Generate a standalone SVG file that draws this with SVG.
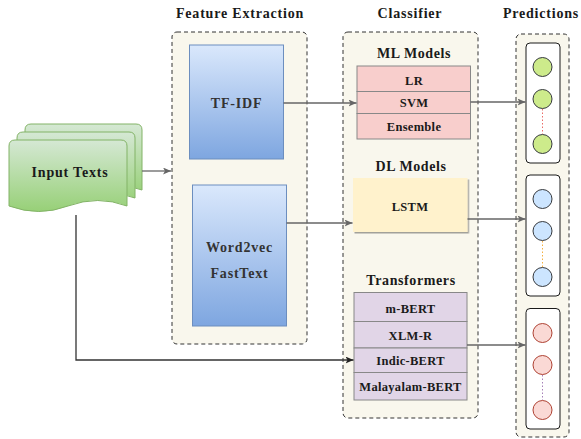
<svg xmlns="http://www.w3.org/2000/svg" width="581" height="439" viewBox="0 0 581 439">
<defs>
<linearGradient id="gGreen" x1="0" y1="0" x2="0" y2="1"><stop offset="0" stop-color="#d5e8d4"/><stop offset="1" stop-color="#97d077"/></linearGradient>
<linearGradient id="gBlue" x1="0" y1="0" x2="0" y2="1"><stop offset="0" stop-color="#dae8fc"/><stop offset="1" stop-color="#7ea6e0"/></linearGradient>
<marker id="arr" markerWidth="9" markerHeight="8" refX="8" refY="3.5" orient="auto" markerUnits="userSpaceOnUse"><path d="M0,0 L8,3.5 L0,7 L2,3.5 Z" fill="#666"/></marker>
<marker id="arrK" markerWidth="9" markerHeight="8" refX="8" refY="3.5" orient="auto" markerUnits="userSpaceOnUse"><path d="M0,0 L8,3.5 L0,7 L2,3.5 Z" fill="#222"/></marker>
<filter id="sh" x="-10%" y="-10%" width="130%" height="130%"><feDropShadow dx="1.5" dy="1.5" stdDeviation="0.6" flood-color="#000" flood-opacity="0.35"/></filter>
</defs>
<style>
text{font-family:"Liberation Serif","Times New Roman",serif;font-weight:bold;fill:#1a1a1a;text-anchor:middle}
.h{font-size:14px;letter-spacing:0.8px}
.g{font-size:14px;letter-spacing:0.6px}
.t{font-size:12.5px;letter-spacing:0.3px}
.cont{fill:#f9f7ed;stroke:#333;stroke-width:1;stroke-dasharray:4 3}
.doc{fill:url(#gGreen);stroke:#82b366;stroke-width:1}
.feat{fill:url(#gBlue);stroke:#6c8ebf;stroke-width:1}
.ml{fill:#f8cecc;stroke:#888;stroke-width:1}
.tr{fill:#e1d5e7;stroke:#888;stroke-width:1}
.inner{fill:#fff;stroke:#1a1a1a;stroke-width:1}
.cg{fill:#cdeb8b;stroke:#36393d}
.cb{fill:#cce5ff;stroke:#36393d}
.cr{fill:#fad9d5;stroke:#ae4132}
.edge{fill:none;stroke:#666;stroke-width:1.3;marker-end:url(#arr)}
</style>

<text class="h" x="240" y="18">Feature Extraction</text>
<text class="h" x="410" y="18">Classifier</text>
<text class="h" x="541" y="18">Predictions</text>

<g id="fe-container"><rect class="cont" x="172" y="32" width="135" height="312" rx="5"/></g>
<g id="cls-container"><rect class="cont" x="343" y="32" width="135" height="386" rx="5"/></g>
<g id="pred-container"><rect class="cont" x="516" y="34" width="53" height="403" rx="5"/></g>

<g id="input-texts">
<path class="doc" d="M25,190 V130 Q25,124 31,124 H136 Q142,124 142,130 V190 Q113,179 83,190 Q54,201 25,190 Z"/>
<path class="doc" d="M17,198 V138 Q17,132 23,132 H129 Q135,132 135,138 V198 Q106,187 76,198 Q47,209 17,198 Z"/>
<path class="doc" d="M9,206 V146 Q9,140 15,140 H121 Q127,140 127,146 V206 Q98,195 68,206 Q39,217 9,206 Z"/>
<text class="h" x="70" y="176.5">Input Texts</text>
</g>

<g id="tfidf">
<rect class="feat" x="189.5" y="45" width="94" height="114"/>
<text class="h" x="236.5" y="108" style="fill:#333">TF-IDF</text>
</g>
<g id="word2vec">
<rect class="feat" x="192.5" y="185" width="94" height="141"/>
<text class="h" x="239.5" y="251.5" style="fill:#333">Word2vec</text>
<text class="h" x="239.5" y="277.5" style="fill:#333">FastText</text>
</g>

<g id="ml-models">
<text class="g" x="414" y="57.5">ML Models</text>
<rect class="ml" x="357" y="66" width="113.5" height="25.5"/>
<rect class="ml" x="357" y="91.5" width="113.5" height="22"/>
<rect class="ml" x="357" y="113.5" width="113.5" height="25.5"/>
<text class="t" x="414" y="84.5">LR</text>
<text class="t" x="414" y="107">SVM</text>
<text class="t" x="414" y="131">Ensemble</text>
</g>

<g id="dl-models">
<text class="g" x="411" y="171">DL Models</text>
<rect x="353" y="178" width="114.5" height="54" fill="#fff2cc" filter="url(#sh)"/>
<text class="t" x="410" y="211">LSTM</text>
</g>

<g id="transformers">
<text class="g" x="411" y="284.5">Transformers</text>
<rect class="tr" x="354" y="292.5" width="113" height="29"/>
<rect class="tr" x="354" y="321.5" width="113" height="26.5"/>
<rect class="tr" x="354" y="348" width="113" height="24.5"/>
<rect class="tr" x="354" y="372.5" width="113" height="27.5"/>
<text class="t" x="410.5" y="312.5">m-BERT</text>
<text class="t" x="410.5" y="340">XLM-R</text>
<text class="t" x="410.5" y="365">Indic-BERT</text>
<text class="t" x="410.5" y="391">Malayalam-BERT</text>
</g>

<g id="pred-ml">
<rect class="inner" x="526" y="43" width="34" height="120" rx="4"/>
<line x1="542.5" y1="109" x2="542.5" y2="134" stroke="#ea6b66" stroke-width="1" stroke-dasharray="1.5 2"/>
<circle class="cg" cx="542.5" cy="67" r="9.5"/>
<circle class="cg" cx="542.5" cy="99" r="9.5"/>
<circle class="cg" cx="542.5" cy="144" r="9.5"/>
</g>
<g id="pred-dl">
<rect class="inner" x="526" y="175" width="34" height="121" rx="4"/>
<line x1="542.5" y1="241" x2="542.5" y2="267" stroke="#f5b041" stroke-width="1" stroke-dasharray="1.5 2"/>
<circle class="cb" cx="542.5" cy="199" r="9.5"/>
<circle class="cb" cx="542.5" cy="231" r="9.5"/>
<circle class="cb" cx="542.5" cy="277" r="9.5"/>
</g>
<g id="pred-tr">
<rect class="inner" x="526" y="308.5" width="34" height="120.5" rx="4"/>
<line x1="542.5" y1="375" x2="542.5" y2="400" stroke="#a680b8" stroke-width="1" stroke-dasharray="1.5 2"/>
<circle class="cr" cx="542.5" cy="333" r="9.5"/>
<circle class="cr" cx="542.5" cy="365" r="9.5"/>
<circle class="cr" cx="542.5" cy="410" r="9.5"/>
</g>

<g id="connectors">
<path class="edge" d="M142,171 H171"/>
<path class="edge" d="M283.5,103 H356.5"/>
<path class="edge" d="M286.5,223 H352.5"/>
<path class="edge" d="M470.5,102 H525.5"/>
<path class="edge" d="M467.5,219 H525.5"/>
<path class="edge" d="M467,345 H525.5"/>
<path d="M76,215 V360 H353.5" fill="none" stroke="#333" stroke-width="1.3" marker-end="url(#arrK)"/>
</g>
</svg>
